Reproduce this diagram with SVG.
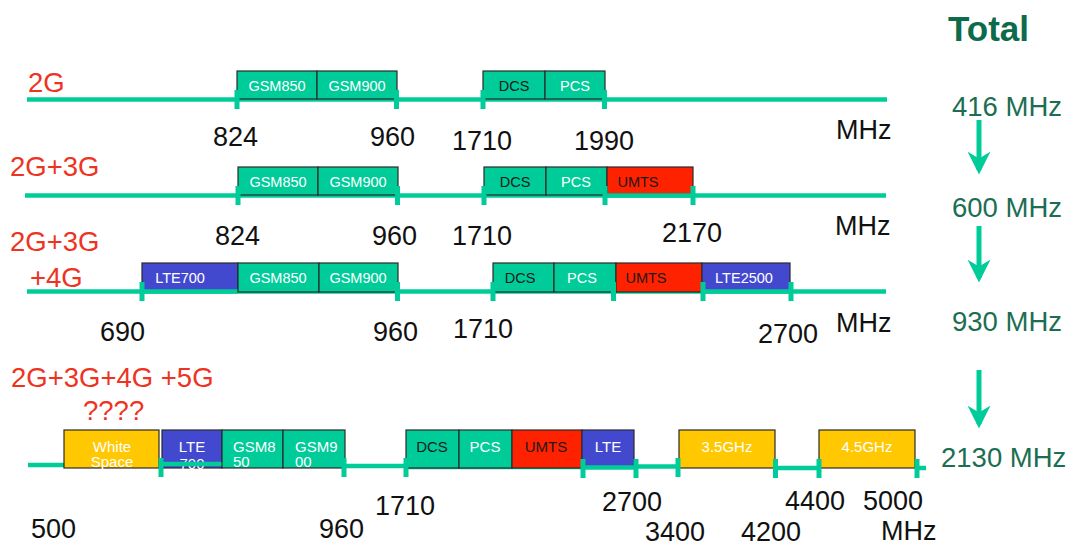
<svg xmlns="http://www.w3.org/2000/svg" width="1075" height="547" viewBox="0 0 1075 547">
<defs>
<style>
text{font-family:"Liberation Sans",Arial,sans-serif;}
.ax{stroke:#00CC99;stroke-width:4.5;fill:none;}
.tk{fill:#00CC99;}
.bx{stroke:#2a2a2a;stroke-width:1.2;}
.tl{fill:#00CC99;}
.rd{fill:#FF2200;}
.bl{fill:#4349CF;}
.yl{fill:#FFC800;}
.bt{font-size:14.5px;text-anchor:middle;}
.bt4{font-size:15px;text-anchor:middle;}
.w{fill:#ffffff;}
.k{fill:#1a1a1a;}
.gen{font-size:27.5px;fill:#EE3322;}
.num{font-size:27px;fill:#111111;}
.tot{font-size:27.5px;fill:#1B6E52;}
.arr{stroke:#00CC99;stroke-width:5;fill:none;}
</style>
<marker id="ah" viewBox="0 0 10 10" refX="8" refY="5" markerWidth="4.6" markerHeight="4.6" orient="auto" markerUnits="strokeWidth">
<path d="M0,0 L10,5 L0,10 L3,5 z" fill="#00CC99"/>
</marker>
</defs>
<rect width="1075" height="547" fill="#ffffff"/>

<g id="axes">
<line class="ax" x1="27" y1="99.5" x2="887" y2="99.5"/>
<line class="ax" x1="25" y1="195.5" x2="886" y2="195.5"/>
<line class="ax" x1="27" y1="291.5" x2="886" y2="291.5"/>
<line class="ax" x1="28" y1="465" x2="66" y2="465"/>
<line class="ax" x1="345" y1="466" x2="407" y2="466"/>
<line class="ax" x1="407" y1="467" x2="583" y2="467"/>
<line class="ax" x1="636" y1="466.5" x2="680" y2="466.5"/>
<line class="ax" x1="775" y1="468" x2="820" y2="468"/>
<line class="ax" x1="916" y1="468" x2="926" y2="468"/>
</g>

<g id="row-2g">
<text class="gen" x="28" y="92">2G</text>
<g id="r1-gsm850"><rect class="bx tl" x="237" y="71" width="80" height="28"/><text class="bt w" x="277" y="91">GSM850</text></g>
<g id="r1-gsm900"><rect class="bx tl" x="317" y="71" width="80" height="28"/><text class="bt w" x="357" y="91">GSM900</text></g>
<g id="r1-dcs"><rect class="bx tl" x="483" y="71" width="62" height="28"/><text class="bt k" x="514" y="91">DCS</text></g>
<g id="r1-pcs"><rect class="bx tl" x="545" y="71" width="60" height="28"/><text class="bt w" x="575" y="91">PCS</text></g>
<rect class="tk" x="234.5" y="90" width="5" height="19"/>
<rect class="tk" x="394" y="90" width="5" height="19"/>
<rect class="tk" x="480.5" y="90" width="5" height="19"/>
<rect class="tk" x="602" y="90" width="5" height="19"/>
<text class="num" x="213" y="146">824</text>
<text class="num" x="370" y="146">960</text>
<text class="num" x="452" y="150">1710</text>
<text class="num" x="574" y="150">1990</text>
<text class="num" x="836" y="139">MHz</text>
</g>

<g id="row-2g3g">
<text class="gen" x="10" y="176">2G+3G</text>
<g id="r2-gsm850"><rect class="bx tl" x="238" y="167" width="80" height="28"/><text class="bt w" x="278" y="187">GSM850</text></g>
<g id="r2-gsm900"><rect class="bx tl" x="318" y="167" width="80" height="28"/><text class="bt w" x="358" y="187">GSM900</text></g>
<g id="r2-dcs"><rect class="bx tl" x="484" y="167" width="62" height="28"/><text class="bt k" x="515" y="187">DCS</text></g>
<g id="r2-pcs"><rect class="bx tl" x="546" y="167" width="61" height="28"/><text class="bt w" x="576" y="187">PCS</text></g>
<g id="r2-umts"><rect class="bx rd" x="607" y="167" width="86" height="27"/><text class="bt k" x="638" y="187">UMTS</text></g>
<line class="ax" x1="607" y1="195.5" x2="693" y2="195.5"/>
<rect class="tk" x="235.5" y="186" width="5" height="19"/>
<rect class="tk" x="395" y="186" width="5" height="19"/>
<rect class="tk" x="481.5" y="186" width="5" height="19"/>
<rect class="tk" x="602.5" y="186" width="5" height="19"/>
<rect class="tk" x="690.5" y="186" width="5" height="19"/>
<text class="num" x="215" y="245">824</text>
<text class="num" x="372" y="245">960</text>
<text class="num" x="452" y="245">1710</text>
<text class="num" x="662" y="242">2170</text>
<text class="num" x="835" y="235">MHz</text>
</g>

<g id="row-2g3g4g">
<text class="gen" x="10" y="251">2G+3G</text>
<text class="gen" x="30" y="287">+4G</text>
<g id="r3-lte700"><rect class="bx bl" x="142" y="263" width="96" height="28"/><text class="bt w" x="180" y="283">LTE700</text></g>
<line class="ax" x1="142" y1="291.5" x2="238" y2="291.5"/>
<g id="r3-gsm850"><rect class="bx tl" x="238" y="263" width="81" height="29"/><text class="bt w" x="278" y="283">GSM850</text></g>
<g id="r3-gsm900"><rect class="bx tl" x="319" y="263" width="79" height="29"/><text class="bt w" x="358" y="283">GSM900</text></g>
<g id="r3-dcs"><rect class="bx tl" x="493" y="263" width="61" height="29"/><text class="bt k" x="520" y="283">DCS</text></g>
<g id="r3-pcs"><rect class="bx tl" x="554" y="263" width="62" height="29"/><text class="bt w" x="582" y="283">PCS</text></g>
<g id="r3-umts"><rect class="bx rd" x="616" y="263" width="86" height="29"/><text class="bt k" x="646" y="283">UMTS</text></g>
<g id="r3-lte2500"><rect class="bx bl" x="702" y="263" width="88" height="28"/><text class="bt w" x="744" y="283">LTE2500</text></g>
<line class="ax" x1="703" y1="291.5" x2="790" y2="291.5"/>
<rect class="tk" x="139.5" y="282" width="5" height="19"/>
<rect class="tk" x="395" y="282" width="5" height="19"/>
<rect class="tk" x="490.5" y="282" width="5" height="19"/>
<rect class="tk" x="611" y="282" width="5" height="19"/>
<rect class="tk" x="700.5" y="282" width="5" height="19"/>
<rect class="tk" x="788.5" y="282" width="5" height="19"/>
<text class="num" x="100" y="341">690</text>
<text class="num" x="373" y="341">960</text>
<text class="num" x="453" y="338">1710</text>
<text class="num" x="758" y="343">2700</text>
<text class="num" x="836" y="332">MHz</text>
</g>

<g id="row-5g">
<text class="gen" x="11" y="387">2G+3G+4G +5G</text>
<text class="gen" x="83" y="420">????</text>
<g id="r4-white"><rect class="bx yl" x="64" y="430" width="95" height="38"/><text class="bt4 w" x="112" y="452">White</text><text class="bt4 w" x="112" y="467">Space</text></g>
<g id="r4-lte700"><rect class="bx bl" x="162" y="430" width="60" height="38"/><text class="bt4 w" x="192" y="452">LTE</text><text class="bt4 w" x="192" y="469">700</text></g>
<line class="ax" x1="159" y1="464" x2="222" y2="464"/>
<g id="r4-gsm850"><rect class="bx tl" x="222" y="430" width="61" height="38"/><text class="w" style="font-size:15px" x="233" y="452">GSM8</text><text class="w" style="font-size:15px" x="233" y="467">50</text></g>
<g id="r4-gsm900"><rect class="bx tl" x="283" y="430" width="62" height="38"/><text class="w" style="font-size:15px" x="295" y="452">GSM9</text><text class="w" style="font-size:15px" x="295" y="467">00</text></g>
<g id="r4-dcs"><rect class="bx tl" x="406" y="430" width="53" height="38"/><text class="bt4 k" x="432" y="452">DCS</text></g>
<g id="r4-pcs"><rect class="bx tl" x="459" y="430" width="53" height="38"/><text class="bt4 w" x="485" y="452">PCS</text></g>
<g id="r4-umts"><rect class="bx rd" x="512" y="430" width="70" height="38"/><text class="bt4 k" x="546" y="452">UMTS</text></g>
<g id="r4-lte"><rect class="bx bl" x="582" y="430" width="52" height="38"/><text class="bt4 w" x="608" y="452">LTE</text></g>
<line class="ax" x1="583" y1="467.5" x2="636" y2="467.5"/>
<g id="r4-35ghz"><rect class="bx yl" x="679" y="430" width="96" height="38"/><text class="bt4 w" x="727" y="452">3.5GHz</text></g>
<g id="r4-45ghz"><rect class="bx yl" x="819" y="430" width="96" height="38"/><text class="bt4 w" x="867" y="452">4.5GHz</text></g>
<rect class="tk" x="158.5" y="458" width="5" height="19"/>
<rect class="tk" x="341.5" y="458" width="5" height="19"/>
<rect class="tk" x="403.5" y="458" width="5" height="19"/>
<rect class="tk" x="580.5" y="459" width="5" height="19"/>
<rect class="tk" x="633.5" y="459" width="5" height="19"/>
<rect class="tk" x="675.5" y="458" width="5" height="19"/>
<rect class="tk" x="773" y="459" width="5" height="19"/>
<rect class="tk" x="816.5" y="459" width="5" height="19"/>
<rect class="tk" x="914.5" y="459" width="5" height="19"/>
<text class="num" x="31" y="538">500</text>
<text class="num" x="319" y="538">960</text>
<text class="num" x="375" y="515">1710</text>
<text class="num" x="602" y="511">2700</text>
<text class="num" x="645" y="541">3400</text>
<text class="num" x="741" y="541">4200</text>
<text class="num" x="785" y="510">4400</text>
<text class="num" x="863" y="510">5000</text>
<text class="num" x="881" y="540">MHz</text>
</g>

<g id="totals">
<text x="948" y="41" style="font-size:35px;font-weight:bold;fill:#0D6A4A">Total</text>
<text class="tot" x="952" y="116">416 MHz</text>
<text class="tot" x="952" y="217">600 MHz</text>
<text class="tot" x="952" y="331">930 MHz</text>
<text class="tot" x="941" y="467">2130 MHz</text>
</g>

<g id="connectors">
<line class="arr" x1="979" y1="120" x2="979" y2="170" marker-end="url(#ah)"/>
<line class="arr" x1="979" y1="226" x2="979" y2="278" marker-end="url(#ah)"/>
<line class="arr" x1="979" y1="370" x2="979" y2="424" marker-end="url(#ah)"/>
</g>
</svg>
